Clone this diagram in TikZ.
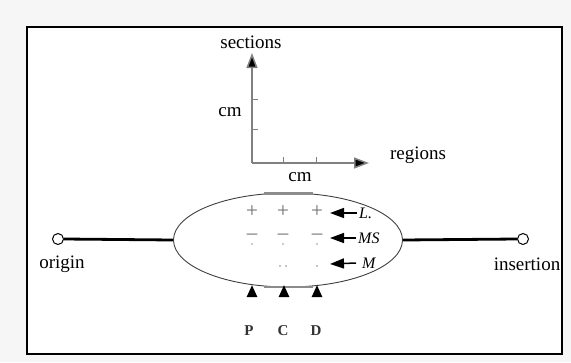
\documentclass[tikz,border=0pt]{standalone}
\usepackage{fontspec}
\setmainfont{Liberation Serif}
\usetikzlibrary{shapes.geometric,arrows.meta}
\definecolor{pagegray}{HTML}{F6F6F6}
\definecolor{axisgray}{HTML}{808080}
\definecolor{inkgray}{HTML}{707070}
\tikzset{
  lbl/.style={inner sep=0pt, font=\fontsize{19}{21}\selectfont},
  tag/.style={inner sep=0pt, font=\fontsize{16}{18}\selectfont\itshape},
  letter/.style={inner sep=0pt, font=\fontsize{15}{17}\selectfont\bfseries, text=black!80},
  sym/.style={inner sep=0pt, text=inkgray, font=\fontsize{21}{23}\selectfont},
  axis/.style={draw=axisgray, line width=1.5pt, -{Triangle[length=15pt,width=11pt,fill=black]}},
  tick/.style={draw=axisgray, line width=1pt},
  endpoint/.style={circle, draw=black, fill=white, line width=1pt, minimum size=11pt, inner sep=0pt},
  link/.style={line width=2.8pt, black},
  pointer/.style={line width=1.5pt, black, -{Triangle[length=14pt,width=10pt]}},
  push/.style={line width=2.4pt, black, -{Triangle[length=12pt,width=10pt]}},
}
\begin{document}
\begin{tikzpicture}[x=1pt, y=-1pt]
  % page and frame
  \fill[pagegray] (0,0) rectangle (571,362);
  \useasboundingbox (0,0) rectangle (571,362);
  \draw[fill=white, line width=1.8pt] (27,27) rectangle (562,354);

  % coordinate axes
  \coordinate (O) at (252,163);
  \coordinate (ytop) at (252,53);
  \coordinate (xend) at (369,163);
  \draw[axis] (O) -- (ytop);
  \draw[axis] (O) -- (xend);
  \draw[tick] (252,99) -- ++(6,0);
  \draw[tick] (252,129) -- ++(6,0);
  \draw[tick] (283,163) -- ++(0,-6);
  \draw[tick] (316,163) -- ++(0,-6);
  \node[lbl] (sections) at (251,42) {sections};
  \node[lbl] (cmy) at (230,112) {cm};
  \node[lbl] (regions) at (418,155) {regions};
  \node[lbl] (cmx) at (300,177) {cm};

  % muscle body
  \node[ellipse, draw=black!75, line width=0.9pt, minimum width=229pt, minimum height=94pt, inner sep=0pt] (body) at (288,240) {};
  \draw[black!45, line width=2.2pt] (264,193.4) -- (313,193.4);
  \draw[black!45, line width=2.2pt] (264,286.6) -- (313,286.6);

  % tendons and attachment points
  \node[endpoint] (orig) at (58,239) {};
  \node[endpoint] (ins) at (523,239) {};
  \draw[link] (orig.east) -- (body.west);
  \draw[link] (body.east) -- (ins.west);
  \node[lbl] (origlbl) at (62,264) {origin};
  \node[lbl] (inslbl) at (527,264) {insertion};

  % sign pattern inside the body
  \foreach \n/\x in {a/252, b/283, c/317} {
    \node[sym] (plus\n) at (\x,212) {+};
  }
  \foreach \n/\x in {a/252, b/283, c/317} {
    \node[sym] (minus\n) at (\x,237) {\textendash};
    \fill[inkgray!70] (\x,244) circle (0.8pt);
  }
  \fill[inkgray!80] (280,266) circle (0.9pt);
  \fill[inkgray!80] (286,266) circle (0.9pt);
  \fill[inkgray!80] (317,266) circle (0.9pt);

  % fibre type labels with pointers
  \node[tag, anchor=west] (L) at (359,213) {L.};
  \node[tag, anchor=west] (MS) at (358,238) {MS};
  \node[tag, anchor=west] (M) at (362,263) {M};
  \coordinate (pL) at (330,213);
  \coordinate (pMS) at (330,238);
  \coordinate (pM) at (330,264);
  \draw[pointer] ([xshift=-2pt]L.west) -- (pL);
  \draw[pointer] ([xshift=-2pt]MS.west) -- (pMS);
  \draw[pointer] ([xshift=-6pt]M.west) -- (pM);

  % regional loading arrows
  \node[letter] (P) at (249,331) {P};
  \node[letter] (C) at (283,331) {C};
  \node[letter] (D) at (316,331) {D};
  \foreach \n/\x in {P/252, C/284, D/317} {
    \coordinate (s\n) at (\x,297);
    \coordinate (e\n) at (\x,285);
    \draw[push] (s\n) -- (e\n);
  }
\end{tikzpicture}
\end{document}
